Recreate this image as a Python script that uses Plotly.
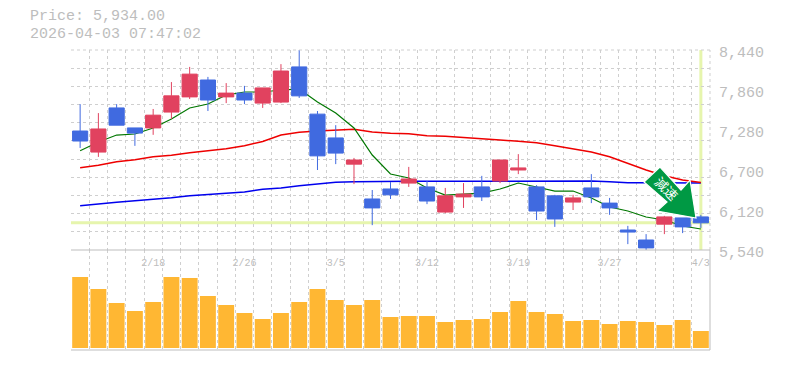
import plotly.graph_objects as go
from plotly.subplots import make_subplots

price_text = "Price: 5,934.00"
stamp_text = "2026-04-03 07:47:02"
current_price = 5934
dates = ["2/12","2/13","2/16","2/17","2/18","2/19","2/20","2/24","2/25","2/26","2/27","3/2","3/3","3/4","3/5","3/6","3/9","3/10","3/11","3/12","3/13","3/16","3/17","3/18","3/19","3/23","3/24","3/25","3/26","3/27","3/30","3/31","4/1","4/2","4/3"]
opens = [7265,6960,7600,7310,7310,7540,7760,8005,7760,7815,7670,7685,8195,7510,7165,6785,6280,6425,6510,6455,6090,6310,6455,6540,6700,6455,6325,6235,6440,6220,5830,5685,5915,6005,6020]
highs = [7655,7525,7655,7310,7585,7975,8195,8050,7960,7920,7890,8235,8440,7555,7350,6875,6410,6525,6745,6540,6440,6510,6615,6845,6930,6480,6340,6340,6640,6295,5890,5770,6035,6005,6050]
lows = [7020,6890,7350,7050,7210,7440,7730,7555,7670,7655,7600,7670,7745,6700,6785,6495,5900,6280,6455,6205,6075,6150,6250,6510,6640,5975,5875,6120,6220,6050,5625,5540,5770,5785,5860]
closes = [7120,7295,7350,7235,7495,7775,8090,7715,7815,7715,7890,8135,7775,6905,6945,6845,6150,6340,6570,6250,6325,6350,6310,6845,6730,6105,5990,6295,6310,6150,5800,5570,6020,5875,5934]
ma_short = [6980,7106,7207,7222,7309,7439,7599,7657,7787,7831,7831,7860,7874,7686,7526,7309,6917,6642,6584,6439,6337,6352,6366,6424,6511,6453,6395,6395,6294,6163,6105,6018,5975,5888,5844]
ma_mid = [6733,6768,6820,6849,6893,6913,6951,6980,7009,7052,7113,7207,7247,7265,7280,7290,7251,7232,7226,7197,7189,7174,7154,7135,7116,7096,7052,7005,6961,6893,6797,6700,6617,6555,6519]
ma_long = [6182,6211,6232,6255,6275,6298,6327,6348,6362,6381,6420,6439,6472,6501,6522,6530,6535,6536,6536,6536,6536,6537,6537,6540,6542,6546,6546,6546,6541,6530,6516,6516,6515,6514,6510]
volumes = [710,590,450,370,460,710,700,520,430,350,290,350,460,590,480,430,480,310,320,320,260,280,290,360,470,360,340,270,280,240,270,260,230,280,170]
y_ticks = [5540,6120,6700,7280,7860,8440]
label_idx = [4,9,14,19,24,29,34]

GREY = "#bdbdbd"
GRID = "#cfcfcf"
HILITE = "#e6f5ad"
xs = list(range(len(dates)))
n = len(dates)
x_grid = [i - 0.5 for i in range(n + 1)]
y_lo, y_hi = y_ticks[0], y_ticks[-1]
y_grid = [y_lo + (y_hi - y_lo) * i / 11 for i in range(12)]

fig = make_subplots(rows=2, cols=1, shared_xaxes=True, vertical_spacing=0, row_heights=[2/3, 1/3])

fig.add_trace(go.Scatter(x=xs, y=ma_long, mode="lines", line=dict(color="#0000ee", width=1.5)), row=1, col=1)
fig.add_trace(go.Scatter(x=xs, y=ma_mid, mode="lines", line=dict(color="#ee0000", width=1.5)), row=1, col=1)
fig.add_trace(go.Scatter(x=xs, y=ma_short, mode="lines", line=dict(color="#007700", width=1.2)), row=1, col=1)
fig.add_trace(go.Bar(x=xs, y=volumes, width=0.87, marker=dict(color="#ffb733", line=dict(width=0))), row=2, col=1)
fig.add_trace(go.Candlestick(x=xs, open=opens, high=highs, low=lows, close=closes, yaxis="y3", xaxis="x",
    whiskerwidth=0,
    increasing=dict(line=dict(color="#e1425f", width=1), fillcolor="#e1425f"),
    decreasing=dict(line=dict(color="#406ae0", width=1), fillcolor="#406ae0")))

xcommon = dict(range=[-0.5, n - 0.5], showgrid=False, zeroline=False, showline=False, ticks="", fixedrange=True,
               minor=dict(tickmode="array", tickvals=x_grid, showgrid=True, gridcolor=GRID, griddash="3px,3px", gridwidth=1, ticks=""),
               rangeslider=dict(visible=False))
fig.update_xaxes(**xcommon)
fig.update_xaxes(row=1, col=1, tickmode="array", tickvals=label_idx, ticktext=[dates[i] for i in label_idx],
                 showticklabels=True, ticks="outside", ticklen=3, tickcolor="rgba(0,0,0,0)",
                 tickfont=dict(family="Liberation Mono", size=10, color=GREY))
fig.update_xaxes(row=2, col=1, showticklabels=False)

yrange = [y_lo, y_hi]
fig.update_yaxes(row=1, col=1, range=yrange, side="right", showticklabels=False,
                 showgrid=False, zeroline=False, ticks="", showline=False,
                 minor=dict(tickmode="array", tickvals=y_grid, showgrid=True, gridcolor=GRID, griddash="3px,3px", gridwidth=1, ticks=""))
fig.update_yaxes(row=2, col=1, range=[-20, 980], showgrid=False, zeroline=False, showticklabels=False, ticks="", showline=False)

fig.update_layout(yaxis3=dict(overlaying="y", matches="y", range=yrange, visible=False, showgrid=False))

fig.add_shape(type="line", xref="x", yref="y", x0=-0.5, x1=n - 0.5, y0=current_price, y1=current_price,
              line=dict(color=HILITE, width=3), layer="below")
fig.add_shape(type="line", xref="x", yref="y", x0=xs[-1], x1=xs[-1], y0=y_lo, y1=y_hi,
              line=dict(color=HILITE, width=3), layer="below")

W, H = 785, 370
L, R, T, B = 71, 710, 50, 350
def px(x): return (x - L) / (R - L)
def py(y): return (B - y) / (B - T)
fig.add_shape(type="line", xref="paper", yref="paper", x0=0, x1=1, y0=1, y1=1, line=dict(color=GRID, width=1, dash="3px,3px"))
fig.add_shape(type="line", xref="paper", yref="paper", x0=1, x1=1, y0=py(250), y1=1, line=dict(color=GRID, width=1, dash="3px,3px"))
fig.add_shape(type="line", xref="paper", yref="paper", x0=1, x1=1, y0=0, y1=py(250), line=dict(color=GREY, width=1))
fig.add_shape(type="line", xref="paper", yref="paper", x0=0, x1=1, y0=py(250), y1=py(250), line=dict(color=GREY, width=1))
fig.add_shape(type="line", xref="paper", yref="paper", x0=0, x1=1, y0=0, y1=0, line=dict(color=GREY, width=1))

pts = [(660,167),(644,182),(667,202),(657,211),(696,218),(690,180),(681,190)]
path = "M " + " L ".join(f"{px(a):.5f},{py(b):.5f}" for a, b in pts) + " Z"
fig.add_shape(type="path", xref="paper", yref="paper", path=path, fillcolor="#009944", line=dict(color="#ffffff", width=1.2))

for v in y_ticks:
    fig.add_annotation(xref="paper", yref="y", x=1, y=v, xanchor="left", yanchor="middle", xshift=9, yshift=-3, showarrow=False,
                       borderpad=0, borderwidth=0, text=f"{v:,}", font=dict(family="Liberation Mono", size=15, color=GREY))
for text, yy in [(price_text, 17), (stamp_text, 34)]:
    fig.add_annotation(xref="paper", yref="paper", x=px(30), y=py(yy), xanchor="left", yanchor="middle", showarrow=False,
                       borderpad=0, borderwidth=0, text=text, font=dict(family="Liberation Mono", size=15, color=GREY))
fig.add_annotation(xref="paper", yref="paper", x=px(667), y=py(188), xanchor="center", yanchor="middle", showarrow=False, textangle=45,
                   text="減速", font=dict(family="Noto Sans CJK JP", size=13, color="#ffffff"))

fig.update_layout(width=W, height=H, autosize=False, showlegend=False, paper_bgcolor="white", plot_bgcolor="white",
                  margin=dict(l=L, r=W - R, t=T, b=H - B, pad=0), bargap=0.13, boxgap=0.17, boxgroupgap=0,
                  hovermode=False)
fig.write_html("out.html", config=dict(displayModeBar=False), post_script="document.body.style.margin='0';")
